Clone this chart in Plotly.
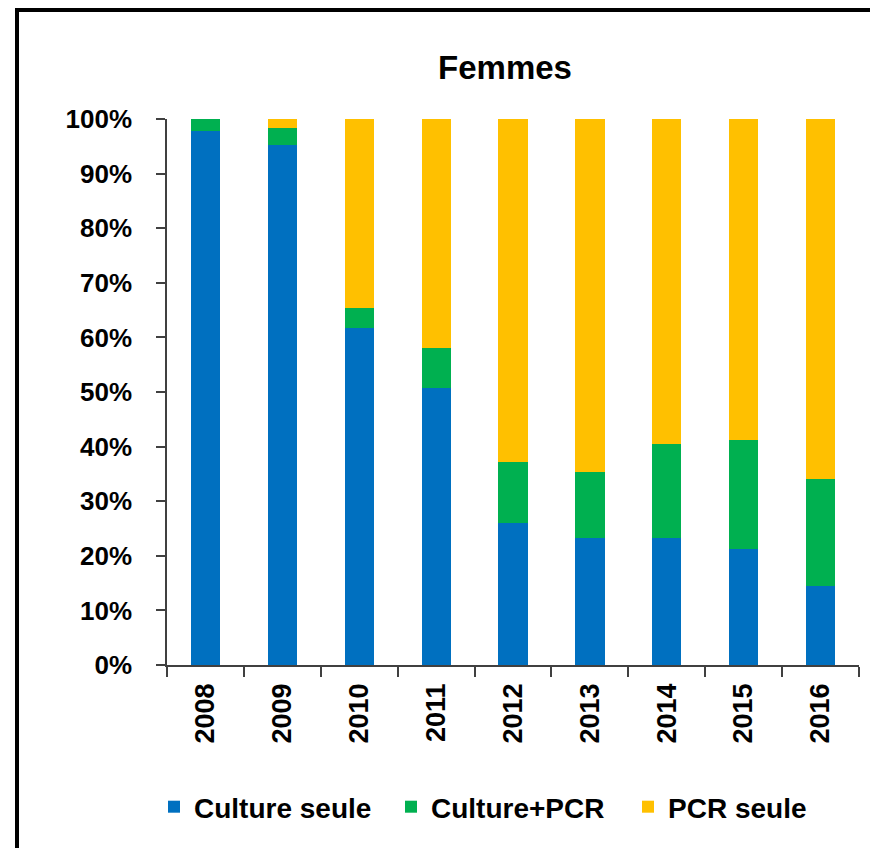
import plotly.graph_objects as go

years = ["2008", "2009", "2010", "2011", "2012", "2013", "2014", "2015", "2016"]
culture_seule = [0.978, 0.953, 0.618, 0.507, 0.260, 0.233, 0.233, 0.212, 0.145]
culture_pcr = [0.022, 0.030, 0.036, 0.073, 0.112, 0.120, 0.172, 0.200, 0.195]
pcr_seule = [0.000, 0.017, 0.346, 0.420, 0.628, 0.647, 0.595, 0.588, 0.660]

series_names = ["Culture seule", "Culture+PCR", "PCR seule"]
series_colors = ["#0070C0", "#00B050", "#FFC000"]

FONT = "Liberation Sans, Arial, sans-serif"

fig = go.Figure()
for name, vals, col in zip(series_names, [culture_seule, culture_pcr, pcr_seule], series_colors):
    fig.add_trace(go.Bar(x=years, y=vals, name=name, marker=dict(color=col, line=dict(width=0))))

# page has an 8px body margin: figure is drawn at (8, 8)
OFF = 8
W, H = 878 - OFF, 848 - OFF
L, R, T, B = 167 - OFF, 19, 119 - OFF, 183
pw, ph = W - L - R, H - T - B

def px_to_paper_x(px):
    return (px - OFF - L) / pw

def px_to_paper_y(py):
    return (H - B - (py - OFF)) / ph

fig.update_layout(
    width=W, height=H,
    margin=dict(l=L, r=R, t=T, b=B, autoexpand=False),
    barmode="stack",
    bargap=0.62,
    plot_bgcolor="white",
    paper_bgcolor="white",
    title=dict(text="Femmes", x=(505 - OFF) / W, xref="container", xanchor="center",
               y=1 - (67 - OFF) / H, yref="container", yanchor="middle",
               font=dict(family=FONT, size=33, color="black", weight="bold")),
    showlegend=True,
    legend=dict(orientation="h", xref="paper", yref="paper",
                x=px_to_paper_x(154), xanchor="left", y=px_to_paper_y(807), yanchor="middle",
                font=dict(family=FONT, size=28, color="black", weight="bold"),
                entrywidth=192, entrywidthmode="pixels",
                traceorder="normal", bgcolor="rgba(0,0,0,0)"),
    xaxis=dict(type="category", showgrid=False, showline=True, linecolor="#404040", linewidth=1.5,
               ticks="outside", ticklen=10, tickcolor="#404040", tickwidth=1.5,
               tickson="boundaries", tickangle=-90, ticklabelstandoff=6,
               tickfont=dict(family=FONT, size=27, color="black", weight="bold")),
    yaxis=dict(range=[0, 1], showgrid=False, showline=True, linecolor="#404040", linewidth=1.5,
               ticks="outside", ticklen=9, tickcolor="#404040", tickwidth=1.5,
               tickvals=[i / 10 for i in range(11)], tickformat=".0%", ticklabelstandoff=19,
               zeroline=False,
               tickfont=dict(family=FONT, size=26, color="black", weight="bold")),
    shapes=[dict(type="rect", xref="paper", yref="paper",
                 x0=px_to_paper_x(17), x1=px_to_paper_x(874),
                 y0=px_to_paper_y(880), y1=px_to_paper_y(10),
                 line=dict(color="black", width=4), fillcolor="rgba(0,0,0,0)", layer="above")],
)

fig.write_html("out.html")
